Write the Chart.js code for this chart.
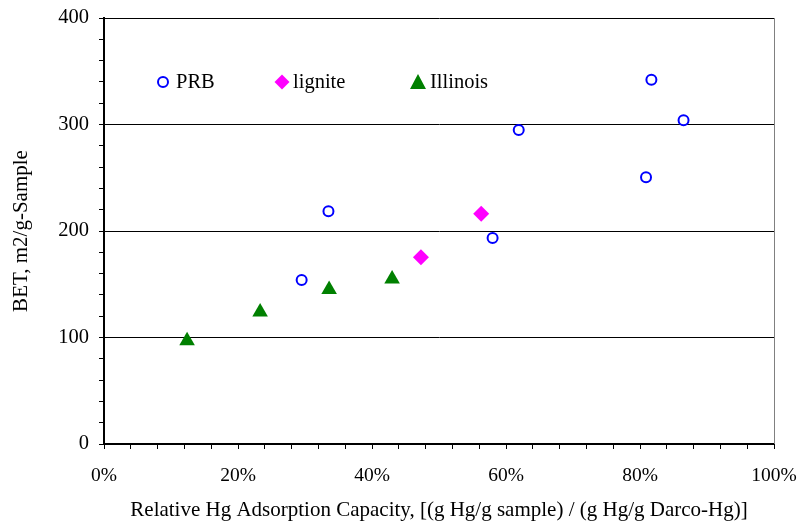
<!DOCTYPE html>
<html>
<head>
<meta charset="utf-8">
<script src="https://cdn.jsdelivr.net/npm/chart.js@4.4.1/dist/chart.umd.min.js"></script>
<style>
  html, body { margin: 0; padding: 0; background: #fff; }
  #wrap { width: 800px; height: 525px; }
</style>
</head>
<body>
<div id="wrap"><canvas id="betChart" width="800" height="525"></canvas></div>
<script>
// relative Hg adsorption capacity (%) and BET surface area (m2/g)
const prbX = [29.5, 33.5, 58.0, 61.9, 80.9, 81.7, 86.5];
const prbY = [154, 218.5, 193.4, 294.8, 250.4, 342.1, 304.0];
const ligniteX = [47.3, 56.3];
const ligniteY = [175.3, 216.2];
const illinoisX = [12.4, 23.3, 33.6, 43.0];
const illinoisY = [97, 124, 145, 155];

const xTickLabels = ['0%', '20%', '40%', '60%', '80%', '100%'];
const yTickLabels = ['0', '100', '200', '300', '400'];

const toPoints = (xs, ys) => xs.map((x, i) => ({ x: x, y: ys[i] }));

const serif = "'Liberation Serif', 'Times New Roman', serif";

// legend drawn inside the plot area, like the original
const insideLegend = {
    id: 'insideLegend',
    afterDraw(chart) {
        const ctx = chart.ctx;
        const y = 82;
        ctx.save();
        ctx.font = '20.5px ' + serif;
        ctx.fillStyle = '#000';
        ctx.textBaseline = 'middle';

        // PRB
        ctx.beginPath();
        ctx.arc(163, y, 5, 0, Math.PI * 2);
        ctx.fillStyle = '#fff';
        ctx.fill();
        ctx.lineWidth = 2;
        ctx.strokeStyle = '#0000FF';
        ctx.stroke();
        ctx.fillStyle = '#000';
        ctx.fillText('PRB', 176, y + 1);

        // lignite
        ctx.beginPath();
        ctx.moveTo(282, y - 7.5);
        ctx.lineTo(289.5, y);
        ctx.lineTo(282, y + 7.5);
        ctx.lineTo(274.5, y);
        ctx.closePath();
        ctx.fillStyle = '#FF00FF';
        ctx.fill();
        ctx.fillStyle = '#000';
        ctx.fillText('lignite', 293, y + 1);

        // Illinois
        ctx.beginPath();
        ctx.moveTo(418, y - 8);
        ctx.lineTo(426, y + 7);
        ctx.lineTo(410, y + 7);
        ctx.closePath();
        ctx.fillStyle = '#008000';
        ctx.fill();
        ctx.fillStyle = '#000';
        ctx.fillText('Illinois', 430, y + 1);

        // gray right border of plot area
        const a = chart.chartArea;
        ctx.beginPath();
        ctx.moveTo(a.right + 0.5, a.top);
        ctx.lineTo(a.right + 0.5, a.bottom);
        ctx.lineWidth = 1;
        ctx.strokeStyle = '#808080';
        ctx.stroke();
        ctx.restore();
    }
};

const ctx = document.getElementById('betChart').getContext('2d');
const betChart = new Chart(ctx, {
    type: 'scatter',
    data: {
        datasets: [
            {
                label: 'PRB',
                data: toPoints(prbX, prbY),
                pointStyle: 'circle',
                pointRadius: 5,
                pointBorderWidth: 2,
                borderColor: '#0000FF',
                backgroundColor: '#FFFFFF'
            },
            {
                label: 'lignite',
                data: toPoints(ligniteX, ligniteY),
                pointStyle: 'rectRot',
                pointRadius: 8,
                pointBorderWidth: 0,
                borderColor: '#FF00FF',
                backgroundColor: '#FF00FF'
            },
            {
                label: 'Illinois',
                data: toPoints(illinoisX, illinoisY),
                pointStyle: 'triangle',
                pointRadius: 9,
                pointBorderWidth: 0,
                borderColor: '#008000',
                backgroundColor: '#008000'
            }
        ]
    },
    options: {
        responsive: false,
        animation: false,
        layout: { padding: { top: 18, right: 26, bottom: 0, left: 0 } },
        plugins: {
            legend: { display: false },
            tooltip: { enabled: false }
        },
        scales: {
            x: {
                type: 'linear',
                min: 0,
                max: 100,
                afterBuildTicks: (scale) => {
                    const t = [];
                    for (let v = 0; v <= 100; v += 4) t.push({ value: v });
                    scale.ticks = t;
                },
                afterFit: (scale) => {
                    scale.height = 81;
                    scale.paddingLeft = 0;
                    scale.paddingRight = 0;
                },
                ticks: {
                    autoSkip: false,
                    maxRotation: 0,
                    padding: 15,
                    color: '#000',
                    font: { family: serif, size: 19.5 },
                    callback: (v) => (v % 20 === 0 ? xTickLabels[v / 20] : '')
                },
                grid: {
                    drawOnChartArea: false,
                    tickLength: 5,
                    tickColor: '#000'
                },
                border: { color: '#000', width: 2 },
                title: {
                    display: true,
                    text: 'Relative Hg Adsorption Capacity, [(g Hg/g sample) / (g Hg/g Darco-Hg)]',
                    color: '#000',
                    font: { family: serif, size: 21 },
                    padding: { top: 4, bottom: 2 }
                }
            },
            y: {
                type: 'linear',
                min: 0,
                max: 400,
                afterBuildTicks: (scale) => {
                    const t = [];
                    for (let v = 0; v <= 400; v += 20) t.push({ value: v });
                    scale.ticks = t;
                },
                afterFit: (scale) => {
                    scale.width = 104;
                    scale.paddingTop = 0;
                    scale.paddingBottom = 0;
                },
                ticks: {
                    autoSkip: false,
                    padding: 10,
                    color: '#000',
                    font: { family: serif, size: 20.5 },
                    callback: (v) => (v % 100 === 0 ? yTickLabels[v / 100] : '')
                },
                grid: {
                    tickLength: 5,
                    tickColor: '#000',
                    lineWidth: 1,
                    color: (c) => (c.tick && c.tick.value % 100 === 0 && c.tick.value > 0 ? '#000' : 'rgba(0,0,0,0)')
                },
                border: { color: '#000', width: 2 },
                title: {
                    display: true,
                    text: 'BET, m2/g-Sample',
                    color: '#000',
                    font: { family: serif, size: 21 },
                    padding: { top: 9, bottom: 4 }
                }
            }
        }
    },
    plugins: [insideLegend]
});
</script>
</body>
</html>
